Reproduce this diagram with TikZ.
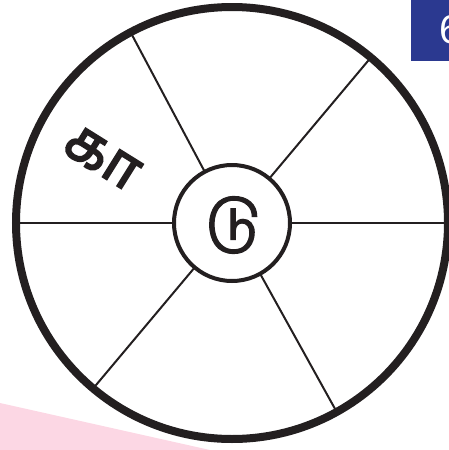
\documentclass[tikz,border=0pt]{standalone}
\usepackage{fontspec}
\newfontfamily\tamil[Script=Tamil,FakeBold=3.5]{Hind Madurai}
\newfontfamily\tamilc[Script=Tamil,FakeBold=2]{Hind Madurai}
\setsansfont{Liberation Sans}
\definecolor{ink}{HTML}{231F20}
\definecolor{pinkbg}{HTML}{FCD7E4}
\definecolor{bluebox}{HTML}{2B3990}
\tikzset{
  outerring/.style={draw=ink,line width=8pt},
  innerring/.style={draw=ink,line width=4pt,fill=white,circle,minimum size=116pt,inner sep=0pt},
  spoke/.style={draw=ink,line width=2pt},
  lbl/.style={text=ink,inner sep=0pt}
}
\begin{document}
\begin{tikzpicture}[x=1pt,y=-1pt]
\useasboundingbox (0,0) rectangle (449,450);
\fill[pinkbg] (0,403) -- (210,450) -- (0,450) -- cycle;
\begin{scope}
\clip (0,0) rectangle (449,450);
\fill[bluebox] (411,0) rectangle (460,61);
\node[text=white,font=\sffamily\fontsize{40}{40}\selectfont,anchor=west,inner sep=0pt] (boxtxt) at (439,30) {6};
\end{scope}
\coordinate (c) at (232,223);
\node[innerring] (hub) at (c) {};
\foreach \i/\a in {1/0,2/50,3/118,4/180,5/230,6/299}{
  \coordinate (h\i) at ([shift={(\a:58 and -58)}]c);
  \coordinate (o\i) at ([shift={(\a:216 and -216)}]c);
  \draw[spoke] (h\i) -- (o\i);
}
\draw[outerring] (c) circle[radius=216];
\node[lbl,font=\tamilc\fontsize{56}{56}\selectfont] (du) at (233,225) {டு};
\node[lbl,font=\tamil\fontsize{58}{58}\selectfont,rotate=-32] (kaa) at (102,158) {கா};
\end{tikzpicture}
\end{document}
